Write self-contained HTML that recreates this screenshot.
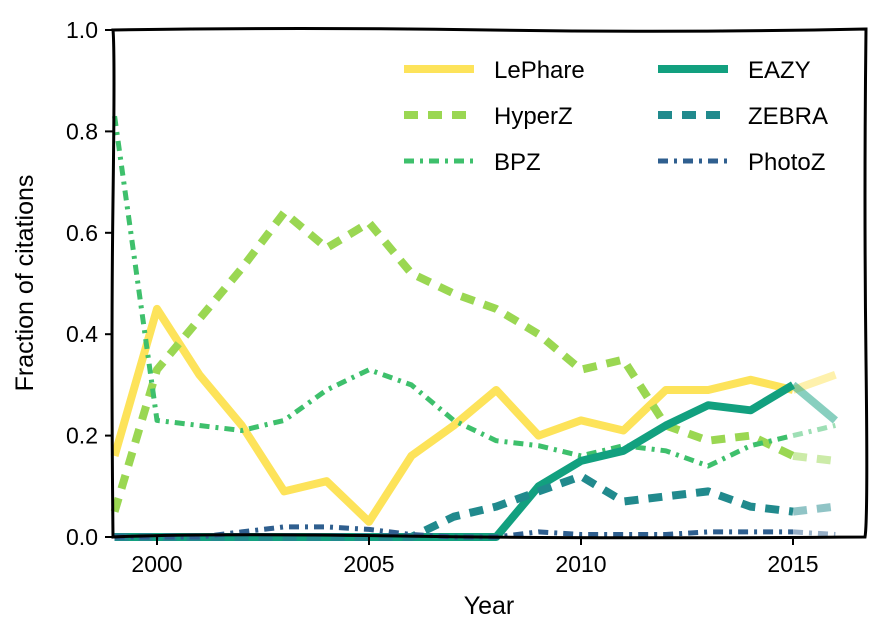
<!DOCTYPE html>
<html><head><meta charset="utf-8">
<style>
html,body{margin:0;padding:0;background:#fff;}
svg text{font-family:"Liberation Sans",sans-serif;fill:#000;}
</style></head>
<body>
<svg id="chart" width="886" height="638" viewBox="0 0 886 638" xmlns="http://www.w3.org/2000/svg">
<rect x="0" y="0" width="886" height="638" fill="#fff"/>
<g id="series"></g>
<path d="M113,30 Q300,27 490,30 T866,29 Q864,200 866,360 T865,537 Q600,539 400,536 T113,537 Q111,350 113,200 T113,30Z" fill="none" stroke="#000" stroke-width="3"/>
<g id="axes"></g>
<text x="489" y="614" font-size="25" text-anchor="middle">Year</text>
<text transform="translate(33,283) rotate(-90)" font-size="25" text-anchor="middle">Fraction of citations</text>
<g id="legend"></g>
</svg>
<script>
const years=[1999,2000,2001,2002,2003,2004,2005,2006,2007,2008,2009,2010,2011,2012,2013,2014,2015,2016];
const lephare=[0.16,0.45,0.32,0.22,0.09,0.11,0.03,0.16,0.22,0.29,0.20,0.23,0.21,0.29,0.29,0.31,0.29,0.32];
const hyperz=[0.05,0.33,0.43,0.53,0.64,0.57,0.62,0.52,0.48,0.45,0.40,0.33,0.35,0.22,0.19,0.20,0.16,0.15];
const bpz=[0.83,0.23,0.22,0.21,0.23,0.29,0.33,0.30,0.23,0.19,0.18,0.16,0.18,0.17,0.14,0.18,0.20,0.22];
const eazy=[0,0,0,0,0,0,0,0,0,0,0.10,0.15,0.17,0.22,0.26,0.25,0.30,0.23];
const zebra=[0,0,0,0,0,0,0,0,0.04,0.06,0.09,0.12,0.07,0.08,0.09,0.06,0.05,0.06];
const photoz=[0,0,0,0.01,0.02,0.02,0.015,0.005,0,0,0.01,0.005,0.005,0.005,0.01,0.01,0.01,0.005];
const xTicks=[2000,2005,2010,2015];
const yTicks=[0.0,0.2,0.4,0.6,0.8,1.0];
const NS="http://www.w3.org/2000/svg";
function xs(v){return 157+(v-2000)*42.4;}
function ys(v){return 537-v*507;}
const series=[
 {name:"lephare",label:"LePhare",data:lephare,color:"#fde35a",dash:"",w:8},
 {name:"hyperz",label:"HyperZ",data:hyperz,color:"#9ad752",dash:"14,10",w:8},
 {name:"bpz",label:"BPZ",data:bpz,color:"#3ec06c",dash:"10,6,3,6",w:5},
 {name:"eazy",label:"EAZY",data:eazy,color:"#12a07f",dash:"",w:8},
 {name:"zebra",label:"ZEBRA",data:zebra,color:"#218a8d",dash:"14,10",w:8},
 {name:"photoz",label:"PhotoZ",data:photoz,color:"#2f5f8f",dash:"10,6,3,6",w:5}
];
const g=document.getElementById('series');
series.forEach(s=>{
 let d="";
 for(let i=0;i<years.length-1;i++){d+=(i?"L":"M")+xs(years[i]).toFixed(1)+","+ys(s.data[i]).toFixed(1);}
 const p=document.createElementNS(NS,'path');
 p.setAttribute('d',d);p.setAttribute('fill','none');p.setAttribute('stroke',s.color);
 p.setAttribute('stroke-width',s.w);p.setAttribute('stroke-linejoin','round');
 if(s.dash)p.setAttribute('stroke-dasharray',s.dash);
 
 
 g.appendChild(p);
 const n=years.length;
 const q=document.createElementNS(NS,'path');
 q.setAttribute('d',"M"+xs(years[n-2])+","+ys(s.data[n-2])+"L"+xs(years[n-1])+","+ys(s.data[n-1]));
 q.setAttribute('fill','none');q.setAttribute('stroke',s.color);q.setAttribute('stroke-opacity','0.5');
 q.setAttribute('stroke-width',s.w);
 if(s.dash)q.setAttribute('stroke-dasharray',s.dash);
 
 
 g.appendChild(q);
});
const ax=document.getElementById('axes');
xTicks.forEach(t=>{
 const l=document.createElementNS(NS,'line');
 l.setAttribute('x1',xs(t));l.setAttribute('x2',xs(t));l.setAttribute('y1',537);l.setAttribute('y2',545);
 l.setAttribute('stroke','#000');l.setAttribute('stroke-width','2');
 
 
 ax.appendChild(l);
 const tx=document.createElementNS(NS,'text');
 tx.setAttribute('x',xs(t));tx.setAttribute('y',572);tx.setAttribute('font-size','23');tx.setAttribute('text-anchor','middle');
 tx.textContent=t;
 
 
 ax.appendChild(tx);
});
yTicks.forEach(t=>{
 const l=document.createElementNS(NS,'line');
 l.setAttribute('x1',105);l.setAttribute('x2',113);l.setAttribute('y1',ys(t));l.setAttribute('y2',ys(t));
 l.setAttribute('stroke','#000');l.setAttribute('stroke-width','2');
 
 
 ax.appendChild(l);
 const tx=document.createElementNS(NS,'text');
 tx.setAttribute('x',98);tx.setAttribute('y',ys(t)+8);tx.setAttribute('font-size','23');tx.setAttribute('text-anchor','end');
 tx.textContent=t.toFixed(1);
 
 
 ax.appendChild(tx);
});
const lg=document.getElementById('legend');
series.forEach((s,i)=>{
 const col=i<3?0:1,row=i%3;
 const x0=col?658:404,y0=69+row*46;
 const l=document.createElementNS(NS,'line');
 l.setAttribute('x1',x0);l.setAttribute('x2',x0+70);l.setAttribute('y1',y0);l.setAttribute('y2',y0);
 l.setAttribute('stroke',s.color);l.setAttribute('stroke-width',s.w);
 if(s.dash)l.setAttribute('stroke-dasharray',s.dash);
 
 
 lg.appendChild(l);
 const tx=document.createElementNS(NS,'text');
 tx.setAttribute('x',x0+90);tx.setAttribute('y',y0+9);tx.setAttribute('font-size','24');
 tx.textContent=s.label;
 
 
 lg.appendChild(tx);
});
</script>
</body></html>
